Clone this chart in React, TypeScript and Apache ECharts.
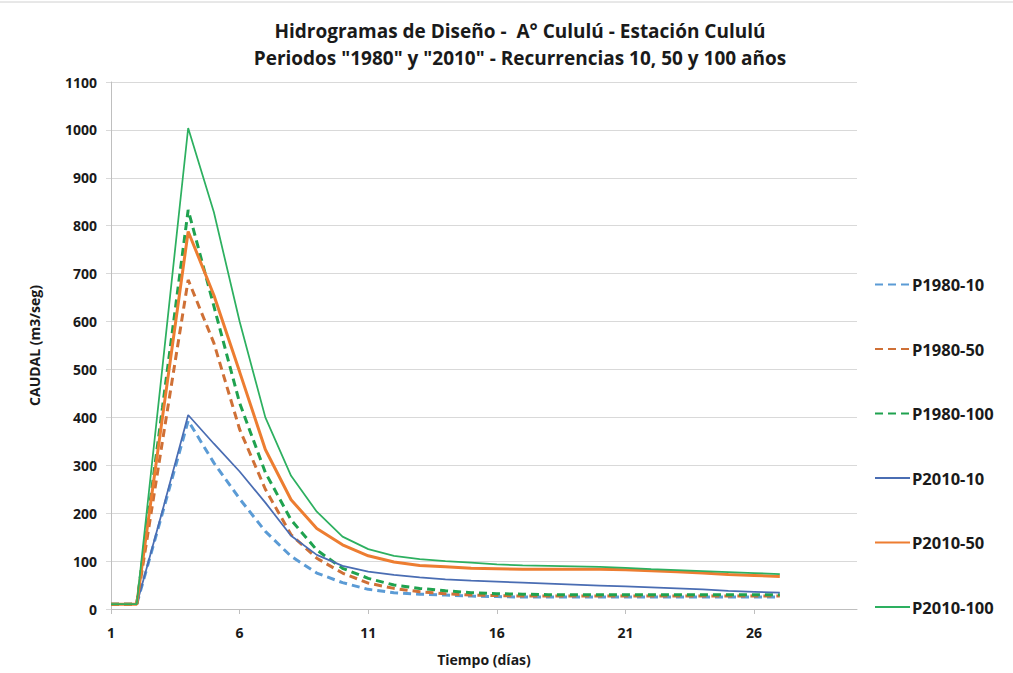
import React, { useEffect, useRef } from "react";
import * as echarts from "echarts";

const days = Array.from({ length: 30 }, (_, i) => String(i + 1));

const seriesNames = ["P1980-10", "P1980-50", "P1980-100", "P2010-10", "P2010-50", "P2010-100"];

const p1980_10 = [10, 10, 200, 393, 305, 230, 162, 110, 75, 55, 41, 34, 31, 29, 27, 26, 25, 25, 25, 25, 25, 25, 25, 25, 25, 25, 25];
const p1980_50 = [10, 10, 350, 687, 555, 375, 250, 155, 106, 75, 54, 43, 36, 32, 29, 28, 27, 27, 27, 27, 27, 27, 27, 27, 27, 27, 27];
const p1980_100 = [10, 10, 420, 833, 632, 430, 285, 186, 123, 85, 64, 50, 43, 38, 34, 32, 31, 30, 30, 30, 30, 30, 30, 30, 30, 30, 30];
const p2010_10 = [10, 10, 205, 405, 345, 287, 222, 153, 113, 90, 78, 71, 66, 62, 59, 57, 55, 53, 51, 49, 47, 45, 43, 41, 38, 36, 34];
const p2010_50 = [10, 10, 400, 788, 655, 495, 333, 228, 168, 134, 111, 98, 91, 88, 85, 84, 83, 83, 83, 83, 82, 80, 78, 75, 72, 70, 68];
const p2010_100 = [10, 10, 505, 1004, 828, 600, 400, 278, 203, 151, 125, 111, 104, 100, 97, 93, 91, 90, 89, 88, 86, 83, 81, 79, 77, 75, 73];

const FONT = "'Open Sans', sans-serif";
const TXT = "#1a1a1a";

export default function App() {
  const ref = useRef<HTMLDivElement>(null);
  useEffect(() => {
    if (!ref.current) return;
    const chart = echarts.init(ref.current, null, { renderer: "svg" });
    const mk = (name: string, data: number[], color: string, width: number, dashed: boolean) => ({
      name,
      type: "line",
      data,
      symbol: "none",
      smooth: false,
      lineStyle: { color, width, type: dashed ? [8, 5] : "solid" },
      itemStyle: { color },
    });
    chart.setOption({
      animation: false,
      backgroundColor: "#ffffff",
      textStyle: { fontFamily: FONT },
      title: {
        text: "Hidrogramas de Diseño -  A° Cululú - Estación Cululú\nPeriodos \"1980\" y \"2010\" - Recurrencias 10, 50 y 100 años",
        left: 515,
        textAlign: "center",
        top: 12,
        textStyle: { fontFamily: FONT, fontSize: 19, fontWeight: "bold", color: TXT, lineHeight: 27 },
      },
      legend: {
        orient: "vertical",
        left: 869,
        top: 271,
        itemWidth: 35,
        itemHeight: 14,
        itemGap: 47.5,
        itemStyle: { opacity: 0 },
        textStyle: { fontFamily: FONT, fontSize: 16.5, fontWeight: "bold", color: TXT, padding: [0, 0, 0, -3] },
        data: seriesNames,
      },
      grid: { left: 111, top: 82, right: 156, bottom: 64, containLabel: false },
      xAxis: {
        type: "category",
        data: days,
        boundaryGap: false,
        name: "Tiempo (días)",
        nameLocation: "middle",
        nameGap: 43,
        nameTextStyle: { fontFamily: FONT, fontSize: 14, fontWeight: "bold", color: TXT },
        axisLine: { lineStyle: { color: "#BFBFBF" } },
        axisTick: { show: true, interval: 4, length: 5, lineStyle: { color: "#BFBFBF" } },
        axisLabel: { interval: 4, margin: 16, fontFamily: FONT, fontSize: 14, fontWeight: "bold", color: TXT },
        splitLine: { show: false },
      },
      yAxis: {
        type: "value",
        min: 0,
        max: 1100,
        interval: 100,
        name: "CAUDAL (m3/seg)",
        nameLocation: "middle",
        nameGap: 70,
        nameRotate: 90,
        nameTextStyle: { fontFamily: FONT, fontSize: 14, fontWeight: "bold", color: TXT },
        axisLine: { show: true, lineStyle: { color: "#BFBFBF" } },
        axisTick: { show: true, length: 5, lineStyle: { color: "#D9D9D9" } },
        axisLabel: { margin: 14, fontFamily: FONT, fontSize: 14, fontWeight: "bold", color: TXT, formatter: (v: number) => String(v) },
        splitLine: { lineStyle: { color: "#D9D9D9", width: 1 } },
      },
      graphic: [
        { type: "line", shape: { x1: 0, y1: 2, x2: 1013, y2: 2 }, style: { stroke: "#D0D0D0", lineWidth: 1 } },
      ],
      series: [
        mk("P1980-10", p1980_10, "#5B9BD5", 3, true),
        mk("P1980-50", p1980_50, "#CF7036", 3, true),
        mk("P1980-100", p1980_100, "#1FA24F", 3, true),
        mk("P2010-10", p2010_10, "#4A6DB3", 1.75, false),
        mk("P2010-50", p2010_50, "#ED7D31", 3, false),
        mk("P2010-100", p2010_100, "#2DB060", 1.75, false),
      ],
    });
    return () => chart.dispose();
  }, []);
  return (
    <div
      ref={ref}
      style={{ position: "fixed", left: 0, top: 0, width: 1013, height: 673, background: "#fff" }}
    />
  );
}
